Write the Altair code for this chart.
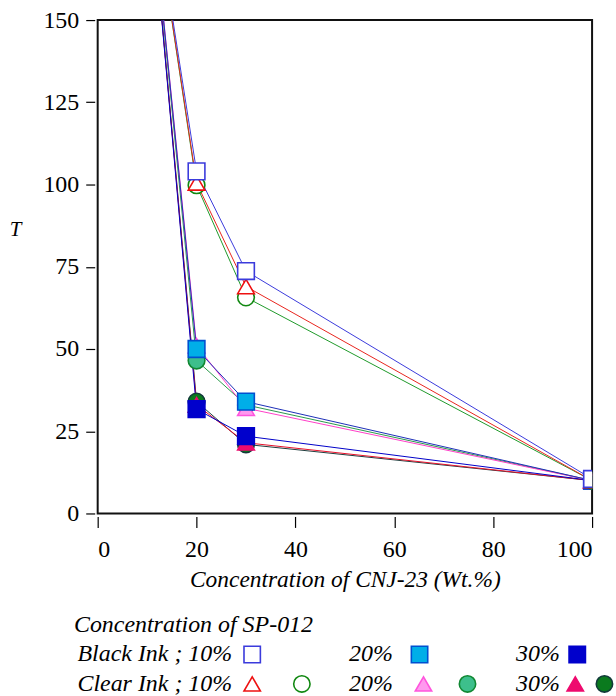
import altair as alt
import pandas as pd

# ---- data ----
x_vals = [10, 20, 30, 100]
series_names = ["B10", "C10t", "C10c", "B20", "C20t", "C20c", "B30", "C30t", "C30c"]
b10 = [200, 104.0, 73.7, 10.5]
c10t = [200, 100.5, 69.0, 10.0]
c10c = [200, 99.8, 65.7, 10.0]
b20 = [200, 50.0, 34.0, 10.0]
c20t = [200, 51.0, 32.0, 10.0]
c20c = [200, 46.5, 33.0, 10.0]
b30 = [200, 31.7, 23.5, 10.0]
c30t = [200, 33.0, 21.5, 10.0]
c30c = [200, 34.0, 21.0, 10.0]
series_values = [b10, c10t, c10c, b20, c20t, c20c, b30, c30t, c30c]

# drawing order (first drawn = bottom)
draw_order = ["C30c", "C30t", "B30", "C20c", "C20t", "B20", "C10c", "C10t", "B10"]

line_colors = ["#3b3bdc", "#e8251e", "#1f9a2a", "#1d2fb8", "#ff3fc8", "#2a9a4a", "#0000c8", "#e8102a", "#1e3c3c"]
shapes = ["square", "triangle-up", "circle", "square", "triangle-up", "circle", "square", "triangle-up", "circle"]
fills = ["#ffffff", "#ffffff", "#ffffff", "#00aee8", "#ff99ee", "#3dbf8c", "#0000cc", "#ee0a6e", "#0a7a1e"]
strokes = ["#3b3bdc", "#ee1111", "#118811", "#0050d0", "#ff55dd", "#118833", "#0000cc", "#ee0a6e", "#123a3a"]

x_ticks = [0, 20, 40, 60, 80, 100]
y_ticks = [0, 25, 50, 75, 100, 125, 150]

# legend content
leg_title = ["Concentration of SP-012"]
leg_title_x = [-4.8]
leg_title_row = [0]
leg_text = ["Black Ink ; 10%", "20%", "30%", "Clear Ink ; 10%", "20%", "30%"]
leg_text_x = [27.2, 59.7, 93.5, 27.2, 59.7, 93.5]
leg_text_row = [1, 1, 1, 2, 2, 2]
leg_sym_series = ["B10", "B20", "B30", "C10t", "C10c", "C20t", "C20c", "C30t", "C30c"]
leg_sym_x = [31.25, 65.1, 97.0, 31.25, 41.3, 65.9, 74.8, 96.6, 102.5]
leg_sym_row = [1, 1, 1, 2, 2, 2, 2, 2, 2]

FONT = "Liberation Serif"

rows = []
for name, vals in zip(series_names, series_values):
    for xv, yv in zip(x_vals, vals):
        rows.append({"x": xv, "y": yv, "s": name, "ord": draw_order.index(name)})
df = pd.DataFrame(rows).sort_values(["ord", "x"]).reset_index(drop=True)

color_scale = alt.Scale(domain=series_names, range=line_colors)
shape_scale = alt.Scale(domain=series_names, range=shapes)
fill_scale = alt.Scale(domain=series_names, range=fills)
stroke_scale = alt.Scale(domain=series_names, range=strokes)

xenc = alt.X("x:Q", scale=alt.Scale(domain=[0, 100], nice=False),
             axis=alt.Axis(values=x_ticks, domain=False, grid=False, offset=3, tickSize=11,
                           tickColor="black", tickWidth=1.2, labelFont=FONT, labelFontSize=24,
                           labelColor="black", labelPadding=10,
                           title="Concentration of CNJ-23  (Wt.%)", titleFont=FONT,
                           titleFontSize=23.5, titleFontStyle="italic", titleFontWeight="normal",
                           titleColor="black", titlePadding=6))
yenc = alt.Y("y:Q", scale=alt.Scale(domain=[0, 150], nice=False),
             axis=alt.Axis(values=y_ticks, domain=False, grid=False, offset=3, tickSize=9,
                           tickColor="black", tickWidth=1.2, labelFont=FONT, labelFontSize=24,
                           labelColor="black", labelPadding=7,
                           title="T", titleFont=FONT, titleFontSize=21, titleFontStyle="italic",
                           titleFontWeight="normal", titleColor="black", titleAngle=0,
                           titleX=-80, titleY=210, titleAlign="center", titleBaseline="middle"))

base = alt.Chart(df)
lines = base.mark_line(clip=True, strokeWidth=1).encode(
    x=xenc, y=yenc,
    color=alt.Color("s:N", scale=color_scale, legend=None),
    order=alt.Order("x:Q"),
    detail="s:N",
)
points = base.mark_point(clip=True, filled=False, size=280, strokeWidth=1.6, opacity=1).encode(
    x="x:Q", y="y:Q",
    shape=alt.Shape("s:N", scale=shape_scale, legend=None),
    fill=alt.Fill("s:N", scale=fill_scale, legend=None),
    stroke=alt.Stroke("s:N", scale=stroke_scale, legend=None),
    order=alt.Order("ord:Q"),
)
main = alt.layer(lines, points).properties(
    width=496, height=495,
    view=alt.ViewBackground(stroke="#111111", strokeWidth=2),
)

# ---- legend panel ----
ldf_title = pd.DataFrame({"lx": leg_title_x, "lr": leg_title_row, "t": leg_title})
ldf_text = pd.DataFrame({"lx": leg_text_x, "lr": leg_text_row, "t": leg_text})
ldf_sym = pd.DataFrame({"lx": leg_sym_x, "lr": leg_sym_row, "s": leg_sym_series})

lx = alt.X("lx:Q", scale=alt.Scale(domain=[0, 100], nice=False), axis=None)
ly = alt.Y("lr:Q", scale=alt.Scale(domain=[0, 2], reverse=True, nice=False), axis=None)

t1 = alt.Chart(ldf_title).mark_text(align="left", baseline="middle", font=FONT, fontSize=24,
                                     fontStyle="italic", color="black", clip=False).encode(
    x=lx, y=ly, text="t:N")
t2 = alt.Chart(ldf_text).mark_text(align="right", baseline="middle", font=FONT, fontSize=24,
                                    fontStyle="italic", color="black", clip=False).encode(
    x=lx, y=ly, text="t:N")
sy = alt.Chart(ldf_sym).mark_point(filled=False, size=270, strokeWidth=1.6, opacity=1, clip=False).encode(
    x=lx, y=ly,
    shape=alt.Shape("s:N", scale=shape_scale, legend=None),
    fill=alt.Fill("s:N", scale=fill_scale, legend=None),
    stroke=alt.Stroke("s:N", scale=stroke_scale, legend=None),
)
legend = alt.layer(t1, t2, sy).properties(
    width=496, height=59,
    view=alt.ViewBackground(strokeOpacity=0),
)

chart = alt.vconcat(main, legend, spacing=21).resolve_scale(
    x="independent", y="independent"
).properties(
    padding={"left": 8, "top": 6, "right": 0, "bottom": 0},
    background="white",
).configure_view(strokeWidth=0)

chart.save("out.html", embed_options={"renderer": "svg", "actions": False})
